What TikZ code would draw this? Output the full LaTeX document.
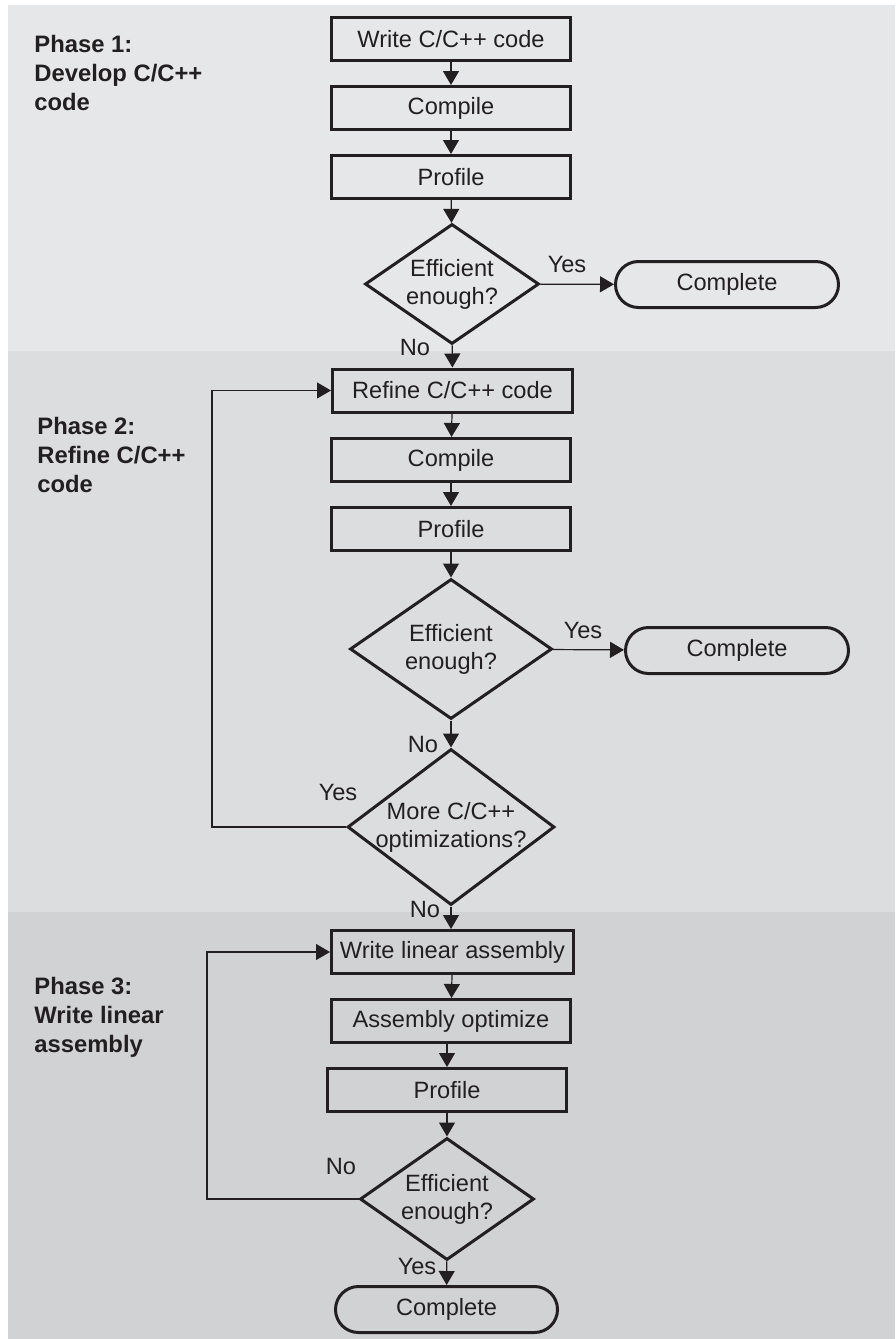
\documentclass[tikz,border=0pt]{standalone}
\usepackage{fontspec}
\setmainfont{Liberation Sans}
\usetikzlibrary{arrows.meta,shapes.geometric,shapes.misc,positioning}

\definecolor{phaseone}{RGB}{230,231,232}
\definecolor{phasetwo}{RGB}{220,221,223}
\definecolor{phasethree}{RGB}{209,210,212}
\definecolor{ink}{RGB}{35,31,32}

\begin{document}
\begin{tikzpicture}[x=0.5pt, y=-0.5pt,
  every node/.style={text=ink, font=\fontsize{11.8pt}{14pt}\selectfont},
  procbox/.style={draw=ink, line width=1.5pt, rectangle, inner sep=0pt,
    minimum width=119.5pt, minimum height=21.5pt},
  decision/.style={draw=ink, line width=1.5pt, diamond, inner sep=-3pt,
    aspect=1.4, align=center},
  terminal/.style={draw=ink, line width=1.5pt, rounded rectangle, inner sep=0pt,
    minimum width=111.5pt, minimum height=23pt},
  phaselabel/.style={anchor=north west, inner sep=0pt, align=left,
    font=\fontsize{11.9pt}{14.5pt}\selectfont\bfseries},
  lbl/.style={inner sep=0pt},
  flow/.style={draw=ink, line width=0.6pt, -{Triangle[length=7pt,width=8pt]}},
  loopline/.style={draw=ink, line width=0.6pt}
]
\useasboundingbox (0,0) rectangle (895,1339);

% phase bands
\fill[phaseone] (8,5) rectangle (895,351);
\fill[phasetwo] (8,351) rectangle (895,912);
\fill[phasethree] (8,912) rectangle (895,1339);

\node[phaselabel] (ph1) at (34,35) {Phase 1:\\Develop C/C++\\code};
\node[phaselabel] (ph2) at (37,417) {Phase 2:\\Refine C/C++\\code};
\node[phaselabel] (ph3) at (34,977) {Phase 3:\\Write linear\\assembly};

% phase 1
\node[procbox] (write) at (451,39) {Write C/C++ code};
\node[procbox] (comp1) at (451,108) {Compile};
\node[procbox] (prof1) at (451,177) {Profile};
\node[decision, minimum width=87pt, minimum height=60pt] (eff1) at (452,284)
  {Efficient\\enough?};
\node[terminal] (done1) at (727,284.5) {Complete};

% phase 2
\node[procbox, minimum width=120pt] (refine) at (452.5,390.5) {Refine C/C++ code};
\node[procbox] (comp2) at (451,460) {Compile};
\node[procbox] (prof2) at (451,529) {Profile};
\node[decision, minimum width=101pt, minimum height=70pt] (eff2) at (451,649)
  {Efficient\\enough?};
\node[terminal] (done2) at (737,650.5) {Complete};
\node[decision, minimum width=103.5pt, minimum height=78pt] (more) at (451,827)
  {More C/C++\\optimizations?};

% phase 3
\node[procbox, minimum width=121pt] (linasm) at (452.5,952) {Write linear assembly};
\node[procbox] (asmopt) at (451,1021) {Assembly optimize};
\node[procbox] (prof3) at (447,1090) {Profile};
\node[decision, minimum width=87pt, minimum height=61pt] (eff3) at (447,1199)
  {Efficient\\enough?};
\node[terminal, minimum width=111pt] (done3) at (446.5,1309.5) {Complete};

\coordinate (back1) at (212,827);
\coordinate (back2) at (207,1199);

% connectors
\draw[flow] (write) -- (comp1);
\draw[flow] (comp1) -- (prof1);
\draw[flow] (prof1) -- (eff1);
\draw[flow] (eff1) -- (done1);
\draw[flow] (eff1) -- (refine);
\draw[flow] (refine) -- (comp2);
\draw[flow] (comp2) -- (prof2);
\draw[flow] (prof2) -- (eff2);
\draw[flow] (eff2) -- (done2);
\draw[flow] (eff2) -- (more);
\draw[flow] (more.west) -- (back1) |- (refine.west);
\draw[flow] (more.south) -- (more.south |- linasm.north);
\draw[flow] (linasm) -- (asmopt);
\draw[flow] (asmopt.south -| prof3) -- (prof3);
\draw[flow] (prof3) -- (eff3);
\draw[flow] (eff3.west) -- (back2) |- (linasm.west);
\draw[flow] (eff3) -- (done3);

% branch labels
\node[lbl] (yes1) at (567,264) {Yes};
\node[lbl] (no1) at (415,347) {No};
\node[lbl] (yes2) at (583,630) {Yes};
\node[lbl] (no2) at (423,744) {No};
\node[lbl] (yes3) at (338,792) {Yes};
\node[lbl] (no3) at (425,909) {No};
\node[lbl] (no4) at (341,1166) {No};
\node[lbl] (yes4) at (417,1266) {Yes};
\end{tikzpicture}
\end{document}
